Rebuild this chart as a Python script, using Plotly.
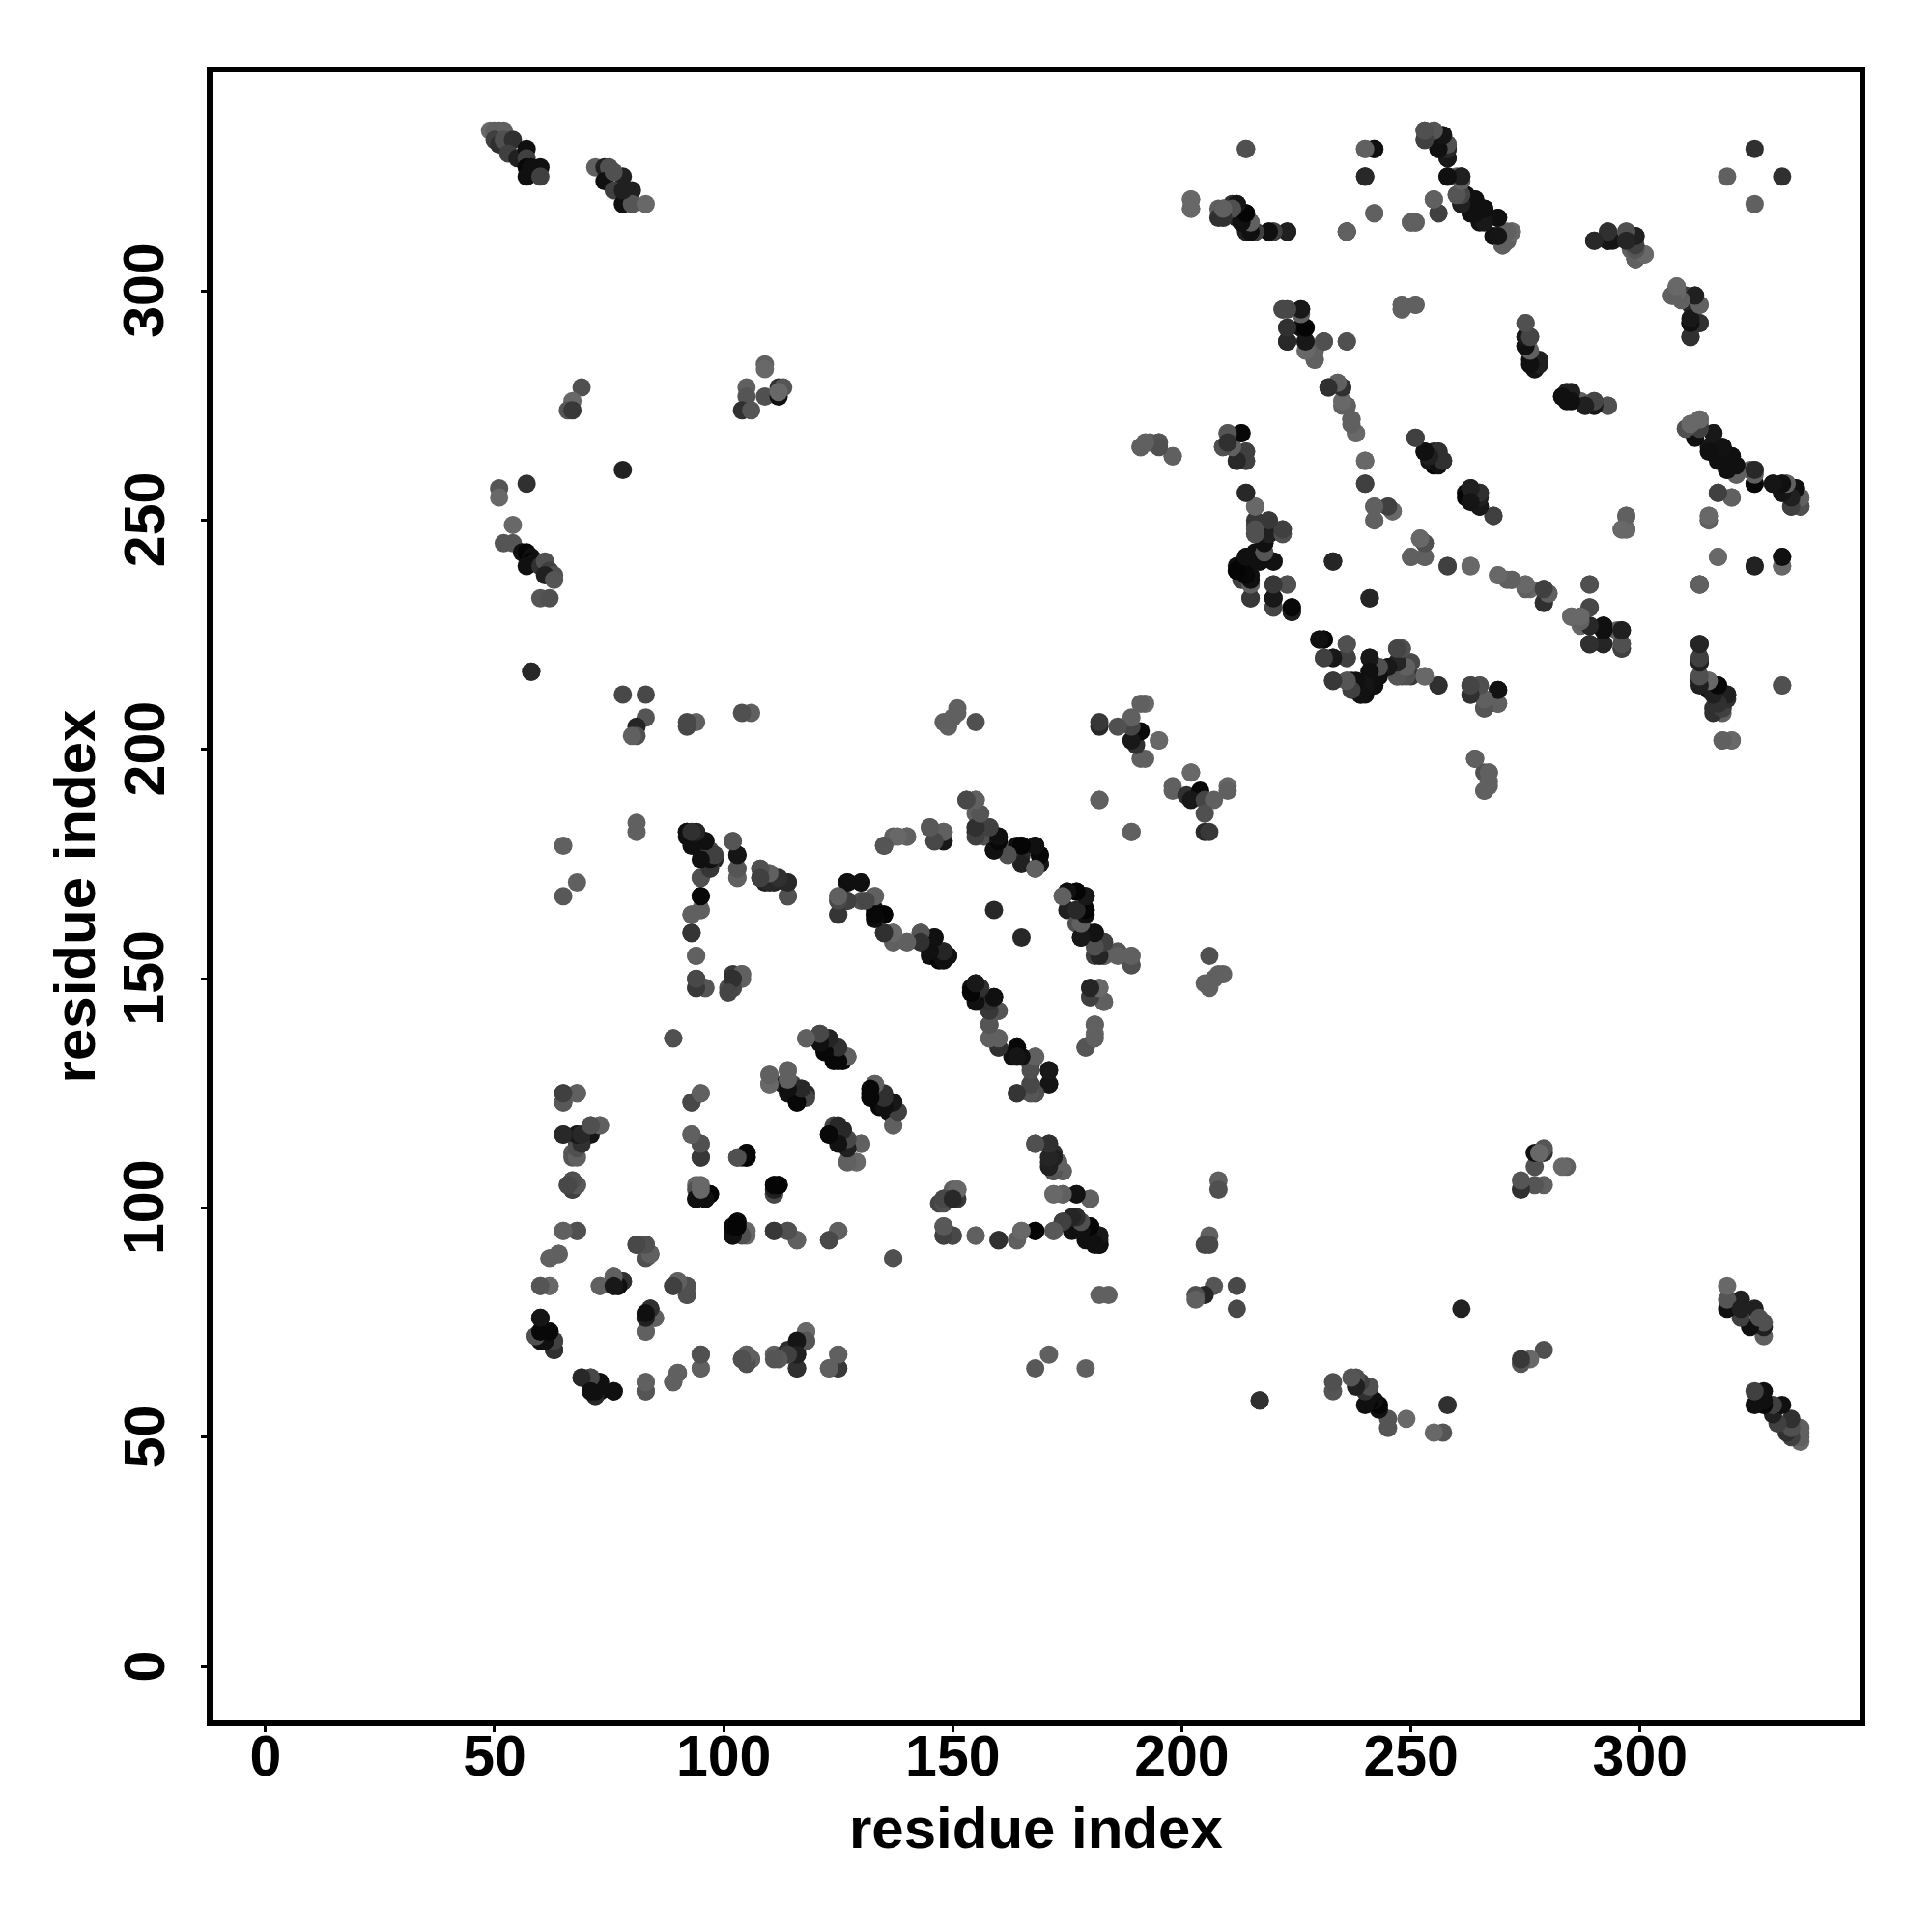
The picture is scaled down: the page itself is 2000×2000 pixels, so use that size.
import plotly.graph_objects as go

# Contact pairs; the map is symmetric, so each pair is drawn both ways.
contact_i = [
 49,50,51,52,50,51,52,54,53,55,57,57,57,58,60,57,60,
 72,74,75,74,78,76,80,78,80,83,76,78,
 69,67,66,67,
 109,109,105,105,104,106,109,112,112,113,112,
 78,57,51,51,54,52,54,
 56,57,58,58,57,59,60,61,62,63,61,63,60,62,58,
 214,202,202,208,208,209,211,212,210,212,214,215,214,216,219,220,223,
 240,242,240,242,236,250,251,255,256,
 253,255,253,257,255,256,258,258,258,
 258,260,261,260,262,261,264,263,266,265,269,268,270,272,270,271,
 290,293,293,294,297,299,298,299,300,299,301,
 307,308,309,310,312,313,311,311,313,311,
 222,223,226,223,226,227,223,227,231,236,228,229,229,248,251,248,
 232,234,235,235,236,237,238,240,240,
 275,275,276,275,277,278,276,277,
 283,284,284,287,288,290,290,293,
 251,253,255,256,255,257,254,
 262,263,265,264,265,268,297,296,297,
 191,193,195,198,
 210,213,209,211,214,212,214,
 214,216,216,216,219,218,219,218,222,222,216,214,218,220,217,212,214,212,215,213,215,220,223,215,220,220,224,224,
 233,241,252,253,250,253,258,263,269,271,272,275,276,279,280,279,
 285,287,287,289,289,289,289,292,295,296,289,292,296,296,
 313,313,313,313,313,313,315,315,317,319,318,316,318,331,318,320,
 230,231,236,231,233,236,241,233,236,237,241,238,240,239,242,243,245,247,247,248,250,247,250,248,253,256,263,265,263,266,269,269,266,267,
 264,267,266,267,266,
 195,202,198,198,201,204,202,205,210,210,207,205,205,206,182,
 92,94,92,93,96,95,97,98,98,97,95,102,103,103,103,108,108,110,109,111,111,114,114,
 95,93,95,93,94,94,94,96,102,104,101,102,102,
 127,130,125,125,127,125,130,133,133,135,133,135,137,137,140,143,143,145,146,145,148,147,149,
 135,137,140,145,146,148,148,153,155,155,155,155,158,157,160,159,162,164,165,165,168,169,169,168,
 159,
 175,177,179,175,179,174,177,178,180,181,181,183,183,186,189,189,
 180,182,180,183,181,181,179,
 154,155,156,156,159,160,158,158,158,160,160,164,163,164,168,167,171,171,167,164,167,168,
 118,121,123,122,124,124,127,126,
 110,110,114,113,115,117,114,118,116,
 133,132,135,134,137,136,138,137,
 124,123,126,126,128,130,127,129,
 95,93,93,95,95,103,104,105,105,
 94,94,94,96,97,96,111,112,111,
 103,102,102,104,105,111,114,116,123,125,137,
 150,151,148,150,147,148,148,150,155,160,164,165,168,172,174,176,177,176,180,179,180,182,182,182,
 168,171,171,172,173,174,172,172,174,177,180,
 89,
 65,68,65,65,73,71,71,68,68,67,67,67,66,68,67,
 65,68,64,62,60,62,73,76,76,78,77,
 81,83,84,83,89,90,92,92,
 84,83,85,83,83,
 60,59,60,62,63,63,60,
 69,71,71,73,72,73,76,
 83,83,89,90,95,95,
 104,105,106,105,
 111,113,114,116,116,116,118,118,123,125,125,
 208,208,206,205,206,207,205,203,203,212,212,217,182,184,
 171,168,179,
 310,311,313,313,312,316,315,318,317,320,319,321,321,324,325,325,329,331,332,331,334,335,333,335,
 317,320,315,315,317,325,331,331,313,
 148,149,150,151,151,155,182,319,325,242,242,245,246,
]
contact_j = [
 335,335,335,335,333,332,333,333,330,329,331,329,327,327,327,325,325,
 327,327,327,324,325,322,322,319,319,319,326,322,
 279,276,274,274,
 284,283,279,277,274,274,277,277,279,279,278,
 261,258,257,255,249,245,245,
 243,243,242,241,240,241,240,241,239,238,238,237,233,233,217,
 331,320,318,318,316,318,319,319,317,316,317,315,313,313,313,313,313,
 331,331,325,317,313,315,315,320,317,
 335,335,333,334,333,331,332,331,329,
 325,325,325,321,321,319,320,317,318,315,316,312,313,313,310,311,
 311,313,311,311,313,312,309,307,308,307,308,
 299,301,299,299,299,297,297,293,293,290,
 296,296,296,292,292,292,289,289,289,289,287,287,285,297,297,296,
 279,280,279,275,275,272,269,263,258,
 293,290,290,288,284,285,285,283,
 277,278,276,276,275,275,276,275,
 268,265,265,265,262,263,263,
 256,257,256,254,253,251,251,248,248,
 266,267,267,264,
 269,269,266,266,265,263,263,
 256,253,249,247,250,249,247,245,248,247,243,242,243,241,241,240,240,239,238,237,236,236,236,233,233,231,231,230,
 241,233,246,245,242,242,240,240,238,237,237,236,235,235,234,232,
 229,229,227,236,231,227,223,227,226,226,223,223,223,222,
 236,223,220,219,216,215,215,213,214,212,211,209,209,214,202,202,
 224,224,223,220,220,220,220,215,215,215,217,214,213,212,214,218,218,219,222,222,219,216,216,216,216,214,214,214,212,211,213,210,209,210,
 198,195,195,192,191,
 202,195,192,191,190,191,189,189,192,191,189,186,182,182,189,
 182,182,181,180,180,178,178,177,176,174,172,180,177,174,172,174,172,173,171,172,171,171,168,
 168,164,165,160,155,150,148,148,151,151,148,148,150,
 171,171,168,167,167,164,167,168,165,164,164,160,160,158,158,160,158,158,159,155,156,154,155,
 179,181,181,183,180,182,180,189,189,186,183,182,183,181,181,178,178,179,179,177,179,177,175,174,
 165,
 169,169,168,165,165,168,162,159,160,160,155,158,155,156,155,153,
 148,148,146,145,140,138,135,
 148,149,148,145,146,143,143,140,137,137,135,135,133,133,133,131,130,127,127,125,125,125,
 137,138,137,135,135,132,133,132,
 129,127,130,127,127,126,125,125,123,
 127,125,125,122,123,121,121,118,
 118,116,117,114,114,114,110,110,
 125,123,116,114,111,111,111,112,111,
 105,104,102,102,103,103,105,105,103,
 97,96,94,95,95,95,95,93,93,95,89,
 104,104,102,102,101,96,94,94,94,93,93,95,95,95,97,97,98,95,96,93,94,94,92,93,
 114,114,110,112,110,108,108,103,103,103,102,
 137,
 125,125,123,116,118,118,116,116,114,112,111,106,105,105,104,
 95,95,90,89,83,83,83,85,83,84,83,
 92,92,90,89,83,84,83,81,
 78,77,76,73,76,
 76,72,72,73,71,69,71,
 63,63,61,62,59,60,60,
 62,60,62,64,68,65,
 67,68,67,66,
 68,68,69,68,69,65,73,71,65,68,65,
 106,104,94,92,92,83,81,81,80,83,78,58,81,81,
 68,65,65,
 270,271,272,271,269,269,266,266,264,264,261,261,260,261,261,258,258,258,258,256,257,255,253,253,
 256,255,251,250,242,240,242,240,236,
 206,205,207,208,209,206,189,325,331,253,250,253,252,
]
contact_grey = [
 0x68,0x60,0x60,0x60,0x40,0x30,0x50,0x30,0x40,0x20,0x10,0x40,0x08,0x10,0x10,0x10,0x40,
 0x60,0x20,0x50,0x10,0x20,0x40,0x20,0x10,0x55,0x68,0x50,0x20,
 0x50,0x68,0x55,0x38,
 0x60,0x68,0x60,0x55,0x30,0x55,0x50,0x10,0x30,0x55,0x68,
 0x22,0x30,0x55,0x68,0x68,0x55,0x55,
 0x10,0x05,0x10,0x05,0x10,0x10,0x30,0x50,0x40,0x50,0x20,0x55,0x55,0x50,0x30,
 0x50,0x68,0x60,0x60,0x30,0x40,0x30,0x20,0x30,0x20,0x08,0x68,0x20,0x50,0x20,0x40,0x25,
 0x68,0x10,0x22,0x68,0x60,0x60,0x68,0x60,0x40,
 0x50,0x60,0x40,0x10,0x20,0x15,0x60,0x10,0x15,
 0x08,0x60,0x28,0x60,0x10,0x10,0x10,0x10,0x12,0x10,0x18,0x10,0x40,0x68,0x50,0x68,
 0x30,0x30,0x10,0x18,0x60,0x20,0x60,0x60,0x68,0x60,0x68,
 0x60,0x68,0x55,0x40,0x20,0x50,0x25,0x15,0x30,0x28,
 0x40,0x50,0x20,0x25,0x10,0x10,0x30,0x28,0x48,0x50,0x60,0x68,0x68,0x68,0x60,0x68,
 0x30,0x60,0x40,0x60,0x68,0x60,0x68,0x68,0x40,
 0x50,0x18,0x45,0x20,0x10,0x20,0x10,0x10,
 0x15,0x20,0x10,0x60,0x10,0x18,0x45,0x50,
 0x40,0x18,0x20,0x30,0x05,0x20,0x15,
 0x10,0x30,0x30,0x20,0x10,0x40,0x60,0x60,0x60,
 0x60,0x60,0x60,0x60,
 0x60,0x12,0x55,0x60,0x50,0x30,0x45,
 0x30,0x68,0x50,0x55,0x48,0x60,0x25,0x18,0x50,0x45,0x10,0x10,0x50,0x18,0x10,0x10,0x15,0x12,0x10,0x40,0x55,0x40,0x50,0x38,0x18,0x40,0x08,0x10,
 0x25,0x25,0x68,0x40,0x60,0x60,0x40,0x68,0x68,0x60,0x60,0x60,0x68,0x30,0x60,0x30,
 0x60,0x60,0x68,0x50,0x50,0x18,0x30,0x05,0x60,0x18,0x28,0x30,0x48,0x48,
 0x20,0x20,0x40,0x10,0x40,0x10,0x60,0x10,0x05,0x15,0x50,0x30,0x60,0x50,0x68,0x68,
 0x20,0x08,0x50,0x45,0x18,0x38,0x12,0x38,0x60,0x10,0x10,0x08,0x08,0x05,0x10,0x55,0x10,0x20,0x50,0x40,0x38,0x50,0x38,0x50,0x68,0x28,0x40,0x40,0x28,0x60,0x08,0x55,0x50,0x30,
 0x60,0x55,0x50,0x60,0x60,
 0x68,0x68,0x60,0x60,0x30,0x08,0x18,0x45,0x68,0x60,0x60,0x50,0x28,0x38,0x68,
 0x10,0x18,0x10,0x10,0x05,0x10,0x50,0x30,0x25,0x40,0x58,0x60,0x12,0x60,0x68,0x60,0x55,0x60,0x20,0x20,0x25,0x30,0x50,
 0x05,0x60,0x68,0x30,0x60,0x48,0x40,0x58,0x38,0x68,0x50,0x48,0x28,
 0x15,0x18,0x50,0x55,0x48,0x35,0x50,0x60,0x10,0x08,0x15,0x30,0x60,0x60,0x55,0x55,0x38,0x30,0x10,0x10,0x30,0x05,0x18,
 0x55,0x60,0x60,0x60,0x40,0x68,0x25,0x50,0x60,0x60,0x60,0x25,0x40,0x50,0x12,0x18,0x60,0x10,0x05,0x28,0x18,0x05,0x10,0x60,
 0x28,
 0x15,0x08,0x10,0x20,0x05,0x60,0x50,0x10,0x08,0x10,0x40,0x40,0x30,0x55,0x60,0x48,
 0x18,0x60,0x48,0x58,0x60,0x68,0x55,
 0x10,0x10,0x25,0x10,0x10,0x55,0x30,0x60,0x60,0x68,0x30,0x05,0x10,0x08,0x60,0x48,0x10,0x10,0x40,0x35,0x48,0x60,
 0x60,0x40,0x18,0x10,0x30,0x08,0x60,0x08,
 0x68,0x60,0x60,0x20,0x48,0x28,0x12,0x28,0x08,
 0x60,0x08,0x30,0x08,0x25,0x10,0x48,0x60,
 0x45,0x08,0x28,0x10,0x60,0x60,0x68,0x60,
 0x60,0x48,0x60,0x50,0x38,0x48,0x20,0x05,0x05,
 0x68,0x50,0x10,0x08,0x05,0x05,0x05,0x08,0x50,
 0x05,0x10,0x10,0x68,0x68,0x38,0x50,0x60,0x48,0x60,0x50,
 0x60,0x60,0x48,0x30,0x45,0x55,0x38,0x48,0x60,0x35,0x60,0x60,0x08,0x50,0x35,0x10,0x40,0x10,0x10,0x10,0x10,0x25,0x10,0x30,
 0x50,0x28,0x28,0x30,0x60,0x50,0x40,0x60,0x55,0x15,0x55,
 0x50,
 0x38,0x60,0x60,0x30,0x68,0x55,0x15,0x20,0x40,0x58,0x55,0x60,0x50,0x60,0x50,
 0x60,0x50,0x60,0x60,0x55,0x60,0x60,0x60,0x20,0x30,0x10,
 0x50,0x50,0x60,0x40,0x50,0x60,0x50,0x48,
 0x30,0x10,0x60,0x60,0x18,
 0x10,0x28,0x10,0x10,0x48,0x28,0x10,
 0x30,0x40,0x10,0x08,0x50,0x08,0x15,
 0x68,0x55,0x60,0x60,0x50,0x60,
 0x40,0x58,0x50,0x48,
 0x60,0x50,0x30,0x18,0x28,0x28,0x60,0x50,0x58,0x60,0x40,
 0x60,0x50,0x60,0x48,0x48,0x55,0x25,0x50,0x60,0x48,0x48,0x28,0x60,0x60,
 0x60,0x58,0x60,
 0x60,0x60,0x68,0x60,0x15,0x10,0x18,0x10,0x10,0x10,0x20,0x45,0x55,0x60,0x20,0x10,0x18,0x28,0x50,0x10,0x15,0x55,0x40,0x50,
 0x40,0x60,0x60,0x60,0x60,0x28,0x10,0x60,0x60,
 0x60,0x60,0x60,0x60,0x60,0x50,0x60,0x60,0x30,0x60,0x60,0x50,0x68,
]

tick_values = [0, 50, 100, 150, 200, 250, 300]
axis_label = "residue index"

assert len(contact_i) == len(contact_j) == len(contact_grey), (len(contact_i), len(contact_j), len(contact_grey))
xs = contact_i + contact_j
ys = contact_j + contact_i
greys = contact_grey * 2
colors = [f"rgb({g},{g},{g})" for g in greys]

tick_font = dict(family="Liberation Sans", size=59, color="black", weight="bold")
title_font = dict(family="Liberation Sans", size=60, color="black", weight="bold")

fig = go.Figure(go.Scatter(x=xs, y=ys, mode="markers",
                           marker=dict(color=colors, size=19, line=dict(width=0))))
axis = dict(tickvals=tick_values, ticks="outside", ticklen=6, tickwidth=3,
            tickcolor="black", showline=True, mirror=True, linecolor="black", linewidth=6,
            showgrid=False, zeroline=False)
fig.update_xaxes(**axis, range=[-11.55, 347.9], tickfont=tick_font, ticklabelstandoff=-26)
fig.update_yaxes(**axis, range=[-11.8, 347.7], showticklabels=False,
                 title=dict(text=axis_label, font=title_font, standoff=92))
fig.add_annotation(x=0.5, xref="paper", y=0, yref="paper", text=axis_label, showarrow=False,
                   xanchor="center", yanchor="middle", yshift=-111, font=title_font)
for t in tick_values:
    fig.add_annotation(x=0, xref="paper", y=t, yref="y", text=str(t), textangle=-90, showarrow=False,
                       xanchor="center", yanchor="middle", xshift=-70.5, font=tick_font)
fig.update_layout(width=2000, height=2000, autosize=False, showlegend=False,
                  margin=dict(l=219.5, r=75, t=75, b=219, autoexpand=False),
                  plot_bgcolor="white", paper_bgcolor="white")
fig.write_html("out.html", config={"displayModeBar": False}, post_script="document.body.style.margin='0';")
